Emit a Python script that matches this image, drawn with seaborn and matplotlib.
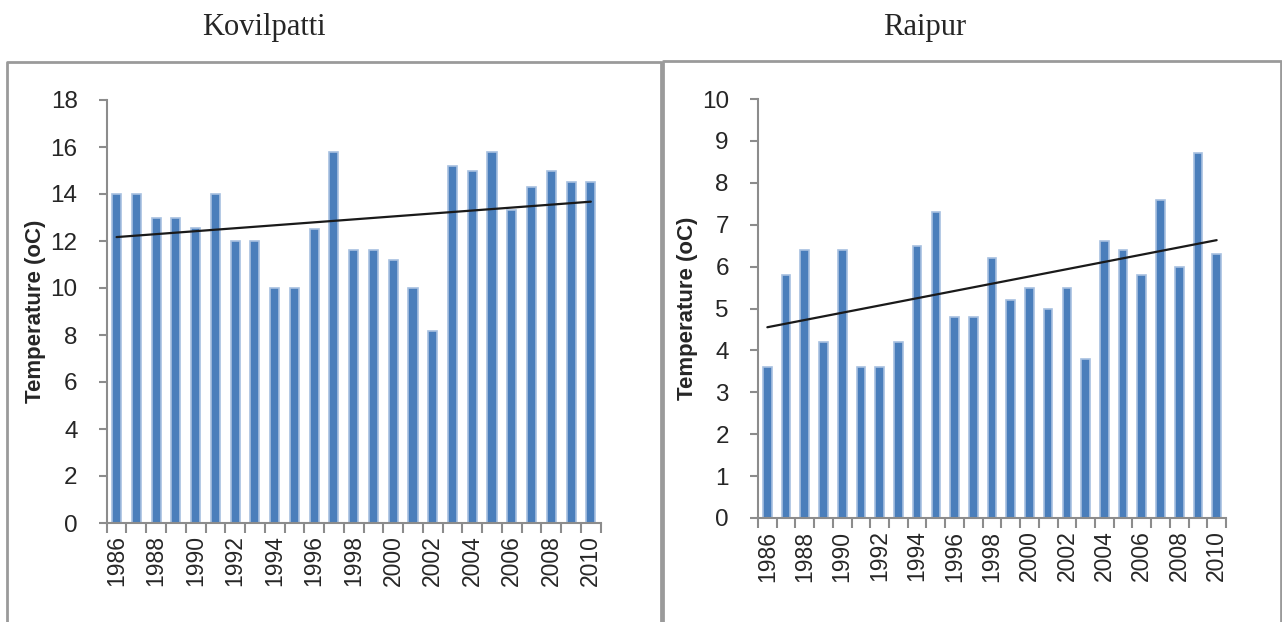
import numpy as np
import matplotlib
matplotlib.use("Agg")
import matplotlib.pyplot as plt
from matplotlib.lines import Line2D
import seaborn as sns

# data
years = [str(y) for y in range(1986, 2011)]
kovilpatti = [14.0, 14.0, 13.0, 13.0, 12.55, 14.0, 12.0, 12.0, 10.0, 10.0,
              12.5, 15.8, 11.6, 11.6, 11.2, 10.0, 8.15, 15.2, 15.0, 15.8,
              13.3, 14.3, 15.0, 14.5, 14.5]
raipur = [3.6, 5.8, 6.4, 4.2, 6.4, 3.6, 3.6, 4.2, 6.5, 7.3,
          4.8, 4.8, 6.2, 5.2, 5.5, 5.0, 5.5, 3.8, 6.6, 6.4,
          5.8, 7.6, 6.0, 8.7, 6.3]
# only every second year is labelled
tick_labels = [y if i % 2 == 0 else '' for i, y in enumerate(years)]

sns.set_style("white")
plt.rcParams['font.family'] = ['Liberation Sans', 'DejaVu Sans']

bar_col = '#4A7EBB'
edge_col = '#A7C0E0'
axis_col = '#8C8C8C'

fig = plt.figure(figsize=(12.82, 6.22), dpi=100)
W, H = 1282, 622


def panel(rect, vals, ymax, ystep):
    ax = fig.add_axes(rect)
    sns.barplot(x=years, y=vals, color=bar_col, saturation=1, width=0.46,
                edgecolor=edge_col, linewidth=1.2, ax=ax)
    # linear trendline
    xs = np.arange(len(vals))
    k, b = np.polyfit(xs, vals, 1)
    ax.plot(xs, k * xs + b, color='#1A1A1A', lw=1.6)
    ax.set_xlim(-0.5, len(vals) - 0.5)
    ax.set_ylim(0, ymax)
    ax.set_yticks(np.arange(0, ymax + 0.01, ystep))
    ax.set_xticks(xs)
    ax.set_xticklabels(tick_labels, rotation=90, fontsize=16.5)
    ax.set_xticks(np.arange(-0.5, len(vals)), minor=True)
    ax.tick_params(axis='x', which='major', length=0, pad=9)
    ax.tick_params(axis='x', which='minor', length=7, width=1.5, color=axis_col,
                   direction='out', bottom=True)
    ax.tick_params(axis='y', length=6, width=1.5, color=axis_col, pad=15,
                   labelsize=17.5, left=True)
    ax.set_xlabel('')
    ax.set_ylabel('Temperature (oC)', fontsize=16, fontweight='bold', labelpad=3)
    sns.despine(ax=ax)
    for s in ('left', 'bottom'):
        ax.spines[s].set_color(axis_col)
        ax.spines[s].set_linewidth(1.5)
    return ax


panel([106.7 / W, 99 / H, 494 / W, 423 / H], kovilpatti, 18, 2)
panel([758 / W, 104 / H, 468 / W, 419 / H], raipur, 10, 1)

# panel frames
fc = '#9A9A9A'
frames = [
    ([7, 7, 661, 661], [622, 62, 62, 622]),
    ([663, 663, 1281, 1281], [622, 61, 61, 622]),
]
for xs, ys in frames:
    fig.add_artist(Line2D([x / W for x in xs], [1 - y / H for y in ys],
                          color=fc, lw=2, transform=fig.transFigure))

fig.text(264 / W, 1 - 27 / H, 'Kovilpatti', family='Liberation Serif',
         fontsize=22, ha='center', va='center')
fig.text(925 / W, 1 - 27 / H, 'Raipur', family='Liberation Serif',
         fontsize=22, ha='center', va='center')

fig.savefig('out.png', dpi=100)
